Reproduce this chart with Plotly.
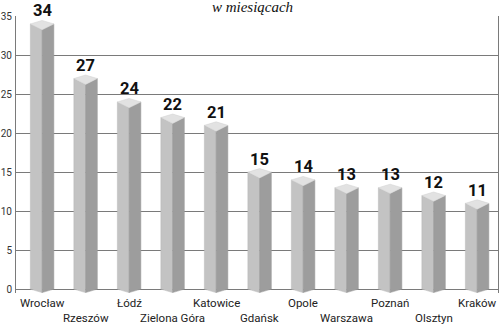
import plotly.graph_objects as go

cities = ["Wrocław", "Rzeszów", "Łódź", "Zielona Góra", "Katowice", "Gdańsk",
          "Opole", "Warszawa", "Poznań", "Olsztyn", "Kraków"]
values = [34, 27, 24, 22, 21, 15, 14, 13, 13, 12, 11]
y_ticks = [0, 5, 10, 15, 20, 25, 30, 35]
title_text = "w miesiącach"

W = 0.27   # half-width of the prism (category units)
DF = 0.75  # depth of front corner (value units)
DB = 0.45  # depth of back corner

front_x, front_y, side_x, side_y, top_x, top_y = [], [], [], [], [], []
for i, v in enumerate(values):
    front_x += [i - W, i, i, i - W, i - W, None]
    front_y += [v, v - DF, -DF * 0.6, 0, v, None]
    side_x += [i, i + W, i + W, i, i, None]
    side_y += [v - DF, v, 0, -DF * 0.6, v - DF, None]
    top_x += [i - W, i, i + W, i, i - W, None]
    top_y += [v, v - DF, v, v + DB, v, None]

fig = go.Figure()
fig.add_trace(go.Scatter(x=front_x, y=front_y, fill="toself", mode="lines",
                         fillcolor="#c3c3c3", line=dict(color="#b8b8b8", width=0.5),
                         hoverinfo="skip"))
fig.add_trace(go.Scatter(x=side_x, y=side_y, fill="toself", mode="lines",
                         fillcolor="#9d9d9d", line=dict(color="#9a9a9a", width=0.5),
                         hoverinfo="skip"))
fig.add_trace(go.Scatter(x=top_x, y=top_y, fill="toself", mode="lines",
                         fillcolor="#e2e2e2", line=dict(color="#d0d0d0", width=0.5),
                         hoverinfo="skip"))

for i, v in enumerate(values):
    fig.add_annotation(x=i, y=v + DB, xref="x", yref="y", text=str(v), showarrow=False,
                       yanchor="bottom", yshift=-2,
                       font=dict(family="Roboto", size=16.5, color="#111111", weight="bold"))

for i, c in enumerate(cities):
    fig.add_annotation(x=i, y=0, xref="x", yref="paper", text=c, showarrow=False,
                       yanchor="top", yshift=-1 if i % 2 == 0 else -16,
                       font=dict(family="Roboto", size=11.5, color="#222222"))

fig.update_layout(
    width=500, height=331,
    margin=dict(l=16, r=2, t=16, b=38),
    paper_bgcolor="white", plot_bgcolor="white",
    showlegend=False,
    title=dict(text="<i>" + title_text + "</i>", x=0.505, xanchor="center",
               y=0.995, yanchor="top",
               font=dict(family="Liberation Serif", size=15, color="#111111")),
    xaxis=dict(range=[-0.6, 10.48], showgrid=False, zeroline=False,
               showticklabels=False, fixedrange=True, automargin=False),
    yaxis=dict(range=[-0.5, 35.02], tickvals=y_ticks, showgrid=True,
               gridcolor="#7a7a7a", gridwidth=1, zeroline=False,
               showline=True, linecolor="#7a7a7a", linewidth=1, mirror=True,
               ticks="", ticklabelstandoff=1, automargin=False,
               tickfont=dict(family="Roboto", size=10, color="#333333")),
)

fig.write_html("out.html")
